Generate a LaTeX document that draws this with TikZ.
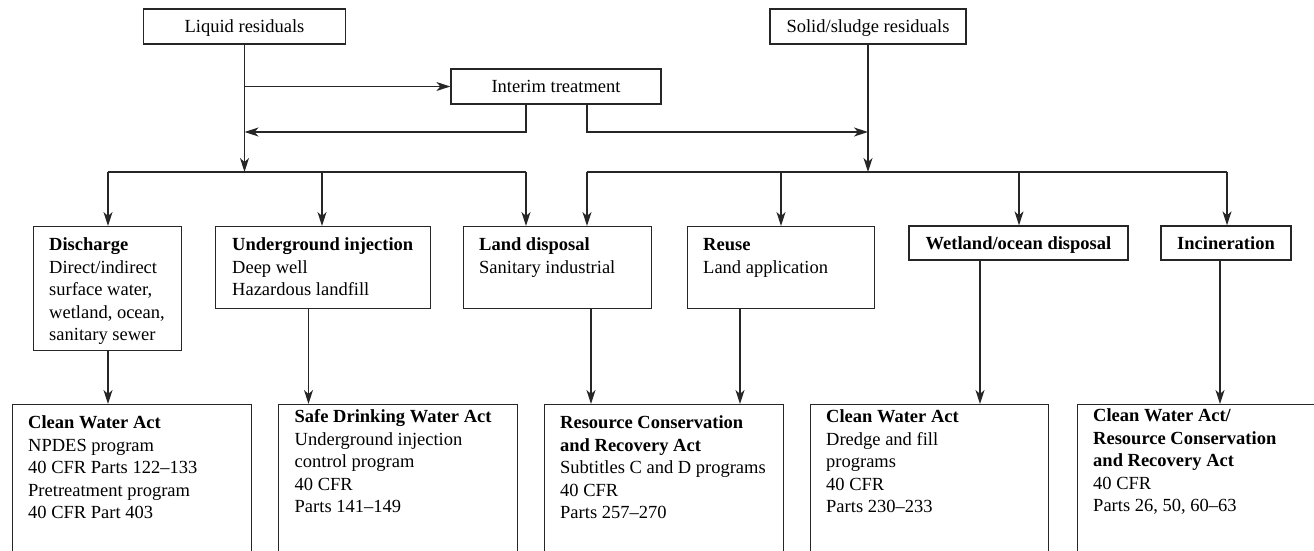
\documentclass[tikz,border=0pt]{standalone}
\usepackage{fontspec}
\setmainfont{Liberation Serif}
\usetikzlibrary{arrows.meta}
\newcommand\mystrut{\rule{0pt}{14pt}}
\begin{document}
\begin{tikzpicture}[x=1pt,y=-1pt,
  ln/.style={line width=1.3pt, draw=black!85},
  arr/.style={ln, -{Stealth[length=14pt,width=9pt,inset=4pt]}},
  box/.style={ln, rectangle, inner sep=0pt, anchor=north west},
  sbox/.style={ln, rectangle, inner sep=0pt, text height=12pt, text depth=0pt,
               font=\fontsize{18.5}{22.5}\selectfont},
  txt/.style={anchor=north west, inner sep=0pt, align=left,
              font=\fontsize{18.5}{22.5}\selectfont}]
\useasboundingbox (0,0) rectangle (1314,550);
\clip (0,0) rectangle (1314,550);

% top boxes
\node[sbox, minimum width=202pt, minimum height=35pt] (liq) at (244.5,26.5) {Liquid residuals};
\node[sbox, minimum width=196pt, minimum height=35pt] (sol) at (868,26.5) {Solid/sludge residuals};
\node[sbox, minimum width=210pt, minimum height=35pt] (int) at (556,86.5) {Interim treatment};

% middle boxes
\node[box, minimum width=148pt, minimum height=124pt] (dis) at (33,226) {};
\node[box, minimum width=215pt, minimum height=82pt] (und) at (215,226) {};
\node[box, minimum width=188pt, minimum height=82pt] (lan) at (463,226) {};
\node[box, minimum width=187pt, minimum height=82pt] (reu) at (687,226) {};
\node[sbox, minimum width=219pt, minimum height=34pt] (wet) at (1018.5,243) {\textbf{Wetland/ocean disposal}};
\node[sbox, minimum width=130pt, minimum height=34pt] (inc) at (1226,243) {\textbf{Incineration}};

\node[txt] (tdis) at (49,236.5) {\mystrut\textbf{Discharge}\\Direct/indirect\\surface water,\\wetland, ocean,\\sanitary sewer};
\node[txt] (tund) at (232,236.5) {\mystrut\textbf{Underground injection}\\Deep well\\Hazardous landfill};
\node[txt] (tlan) at (479,236.5) {\mystrut\textbf{Land disposal}\\Sanitary industrial};
\node[txt] (treu) at (703,236.5) {\mystrut\textbf{Reuse}\\Land application};

% bottom boxes
\node[box, minimum width=239pt, minimum height=200pt] (b1) at (12,404) {};
\node[box, minimum width=239pt, minimum height=200pt] (b2) at (278,404) {};
\node[box, minimum width=239pt, minimum height=200pt] (b3) at (544,404) {};
\node[box, minimum width=238pt, minimum height=200pt] (b4) at (810,404) {};
\node[box, minimum width=260pt, minimum height=200pt] (b5) at (1077,404) {};

\node[txt] (tb1) at (28,414.3) {\mystrut\textbf{Clean Water Act}\\NPDES program\\40 CFR Parts 122--133\\Pretreatment program\\40 CFR Part 403};
\node[txt] (tb2) at (294.5,408.7) {\mystrut\textbf{Safe Drinking Water Act}\\Underground injection\\control program\\40 CFR\\Parts 141--149};
\node[txt] (tb3) at (560,414.3) {\mystrut\textbf{Resource Conservation}\\\textbf{and Recovery Act}\\Subtitles C and D programs\\40 CFR\\Parts 257--270};
\node[txt] (tb4) at (826,408.7) {\mystrut\textbf{Clean Water Act}\\Dredge and fill\\programs\\40 CFR\\Parts 230--233};
\node[txt] (tb5) at (1093,407.7) {\mystrut\textbf{Clean Water Act/}\\\textbf{Resource Conservation}\\\textbf{and Recovery Act}\\40 CFR\\Parts 26, 50, 60--63};

% junction coordinates
\coordinate (jL) at (244.5,172);
\coordinate (jR) at (868,172);
\coordinate (tapL) at (244.5,86.5);
\coordinate (iLb) at (526,132);
\coordinate (iRb) at (587,132);
\coordinate (bL1) at (108,172);
\coordinate (bL2) at (322,172);
\coordinate (bL3) at (526,172);
\coordinate (bR1) at (587,172);
\coordinate (bR2) at (781,172);
\coordinate (bR3) at (1019,172);
\coordinate (bR4) at (1227,172);
\coordinate (o1) at (108,0);
\coordinate (o2) at (308.5,0);
\coordinate (o3) at (591,0);
\coordinate (o4) at (740,0);
\coordinate (o5) at (980,0);
\coordinate (o6) at (1220,0);

% top connectors
\draw[arr] (liq.south) -- (jL);
\draw[arr] (sol.south) -- (jR);
\draw[arr] (tapL) -- (int.west);
\draw[arr] (int.south -| iLb) -- (iLb) -- (iLb -| liq.south);
\draw[arr] (int.south -| iRb) -- (iRb) -- (iRb -| sol.south);

% branches
\draw[ln] (bL1) -- (bL3);
\draw[ln] (bR1) -- (bR4);
\draw[arr] (bL1) -- (bL1 |- dis.north);
\draw[arr] (bL2) -- (bL2 |- und.north);
\draw[arr] (bL3) -- (bL3 |- lan.north);
\draw[arr] (bR1) -- (bR1 |- lan.north);
\draw[arr] (bR2) -- (bR2 |- reu.north);
\draw[arr] (bR3) -- (bR3 |- wet.north);
\draw[arr] (bR4) -- (bR4 |- inc.north);

% to regulation boxes
\draw[arr] (o1 |- dis.south) -- (o1 |- b1.north);
\draw[arr] (o2 |- und.south) -- (o2 |- b2.north);
\draw[arr] (o3 |- lan.south) -- (o3 |- b3.north);
\draw[arr] (o4 |- reu.south) -- (o4 |- b3.north);
\draw[arr] (o5 |- wet.south) -- (o5 |- b4.north);
\draw[arr] (o6 |- inc.south) -- (o6 |- b5.north);
\end{tikzpicture}
\end{document}
